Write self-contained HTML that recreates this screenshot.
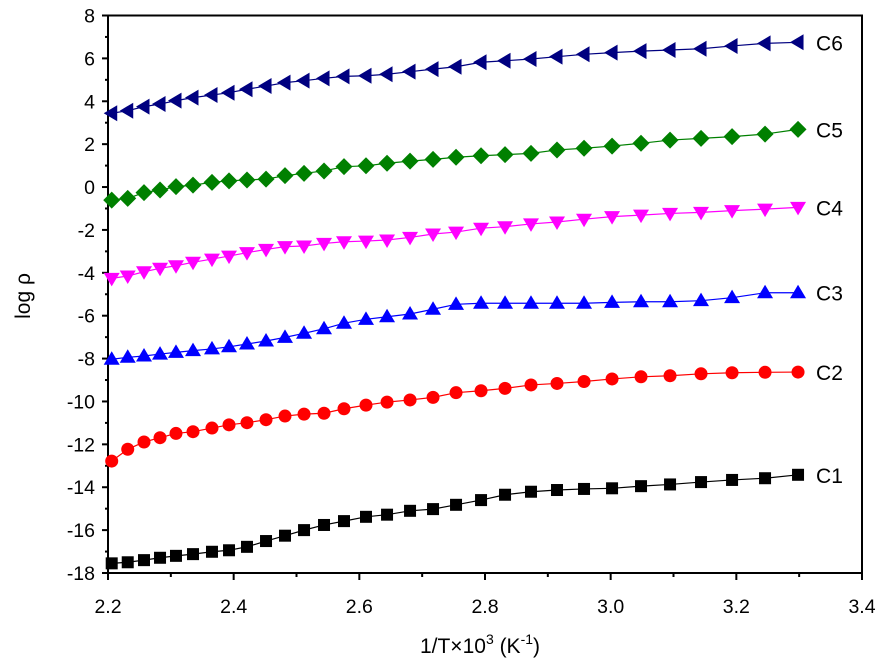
<!DOCTYPE html>
<html><head><meta charset="utf-8"><style>
html,body{margin:0;padding:0;background:#fff;}
svg{display:block;font-family:"Liberation Sans",Arial,sans-serif;}
</style></head><body>
<svg id="chart" width="881" height="665" viewBox="0 0 881 665" xmlns="http://www.w3.org/2000/svg"></svg>
<script>
const xValues=[2.2059,2.2314,2.2573,2.2828,2.3082,2.3353,2.3655,2.3926,2.4212,2.4515,2.4817,2.5120,2.5438,2.5756,2.6106,2.6441,2.6807,2.7173,2.7539,2.7937,2.8319,2.8732,2.9146,2.9576,3.0022,3.0483,3.0945,3.1438,3.1932,3.2457,3.2982];
const c1=[-17.55,-17.50,-17.40,-17.29,-17.20,-17.12,-17.01,-16.94,-16.78,-16.51,-16.26,-16.00,-15.76,-15.58,-15.38,-15.28,-15.10,-15.02,-14.82,-14.60,-14.35,-14.21,-14.13,-14.08,-14.05,-13.95,-13.87,-13.76,-13.66,-13.58,-13.42];
const c2=[-12.78,-12.23,-11.89,-11.69,-11.49,-11.41,-11.24,-11.09,-10.99,-10.85,-10.68,-10.59,-10.55,-10.34,-10.17,-10.03,-9.93,-9.81,-9.59,-9.50,-9.39,-9.23,-9.16,-9.07,-8.95,-8.85,-8.80,-8.71,-8.66,-8.64,-8.63];
const c3=[-8.03,-7.94,-7.88,-7.79,-7.71,-7.63,-7.55,-7.45,-7.32,-7.18,-7.01,-6.82,-6.61,-6.35,-6.17,-6.05,-5.92,-5.70,-5.47,-5.42,-5.42,-5.42,-5.42,-5.42,-5.38,-5.35,-5.35,-5.30,-5.16,-4.93,-4.93];
const c4=[-4.26,-4.15,-3.95,-3.79,-3.67,-3.51,-3.36,-3.22,-3.06,-2.91,-2.78,-2.75,-2.63,-2.55,-2.52,-2.47,-2.35,-2.19,-2.10,-1.92,-1.85,-1.72,-1.63,-1.50,-1.38,-1.31,-1.23,-1.18,-1.10,-1.03,-0.95];
const c5=[-0.61,-0.53,-0.26,-0.14,0.02,0.09,0.22,0.29,0.33,0.37,0.53,0.64,0.75,0.95,0.99,1.11,1.21,1.29,1.39,1.46,1.51,1.57,1.73,1.81,1.91,2.04,2.19,2.27,2.35,2.47,2.69];
const c6=[3.44,3.56,3.75,3.87,4.03,4.17,4.29,4.40,4.56,4.71,4.87,4.96,5.07,5.16,5.19,5.26,5.38,5.50,5.61,5.82,5.89,5.97,6.08,6.19,6.27,6.34,6.39,6.45,6.58,6.70,6.75];
const seriesNames=["C1","C2","C3","C4","C5","C6"];
const xTickLabels=["2.2","2.4","2.6","2.8","3.0","3.2","3.4"];
const yTickLabels=["-18","-16","-14","-12","-10","-8","-6","-4","-2","0","2","4","6","8"];

const L=108,R=862,T=15.5,B=573;
const X0=2.2,X1=3.4,Y0=-18,Y1=8;
function sx(v){return L+(v-X0)/(X1-X0)*(R-L);}
function sy(v){return B-(v-Y0)/(Y1-Y0)*(B-T);}
const NS="http://www.w3.org/2000/svg";
const svg=document.getElementById('chart');
function mk(tag,attrs,parent){const e=document.createElementNS(NS,tag);for(const k in attrs)e.setAttribute(k,attrs[k]);(parent||svg).appendChild(e);return e;}

const frame=mk('rect',{x:L,y:T,width:R-L,height:B-T,fill:'none',stroke:'#000','stroke-width':2});



for(let v=Y0;v<=Y1;v+=1){
  const major=(v%2===0);
  const t=mk('line',{x1:L,x2:L-(major?6:3),y1:sy(v),y2:sy(v),stroke:'#000','stroke-width':2});
  
  
}
yTickLabels.forEach(s=>{
  const tx=mk('text',{x:L-13,y:sy(parseFloat(s))+7,'text-anchor':'end','font-size':19.5,fill:'#000'});
  tx.textContent=s;
  
  
});
for(let i=0;i<=12;i++){
  const v=X0+i*0.1;const major=(i%2===0);
  const t=mk('line',{x1:sx(v),x2:sx(v),y1:B,y2:B+(major?7:4),stroke:'#000','stroke-width':2});
  
  
}
xTickLabels.forEach(s=>{
  const tx=mk('text',{x:sx(parseFloat(s)),y:B+40,'text-anchor':'middle','font-size':19.5,fill:'#000'});
  tx.textContent=s;
  
  
});
const xt=mk('text',{x:480,y:653,'text-anchor':'middle','font-size':21,fill:'#000'});
xt.innerHTML='1/T×10<tspan dy="-9" font-size="14">3</tspan><tspan dy="9"> (K</tspan><tspan dy="-9" font-size="14">-1</tspan><tspan dy="9">)</tspan>';


const yt=mk('text',{x:0,y:0,'text-anchor':'middle','font-size':21,fill:'#000',transform:'translate(30,296) rotate(-90)'});
yt.textContent='log ρ';



const allSeries=[c1,c2,c3,c4,c5,c6];
const colors=['#000000','#ff0000','#0000ff','#ff00ff','#008000','#000080'];
const shapes=['square','circle','up','down','diamond','left'];
function marker(shape,x,y,col,g){
  if(shape==='square')return mk('rect',{x:x-6,y:y-6,width:12,height:12,fill:col},g);
  if(shape==='circle')return mk('circle',{cx:x,cy:y,r:6.5,fill:col},g);
  let pts;
  if(shape==='up')pts=[[x,y-8],[x+8,y+5.5],[x-8,y+5.5]];
  if(shape==='down')pts=[[x,y+8],[x+8,y-5.5],[x-8,y-5.5]];
  if(shape==='left')pts=[[x-8,y],[x+5.5,y-8],[x+5.5,y+8]];
  if(shape==='diamond')pts=[[x,y-8.5],[x+8.5,y],[x,y+8.5],[x-8.5,y]];
  return mk('polygon',{points:pts.map(p=>p.join(',')).join(' '),fill:col},g);
}
allSeries.forEach((ys,si)=>{
  const g=mk('g',{});
  
  
  const pl=mk('polyline',{points:ys.map((v,i)=>sx(xValues[i])+','+sy(v)).join(' '),fill:'none',stroke:colors[si],'stroke-width':1.2},g);
  
  
  ys.forEach((v,i)=>{
    const m=marker(shapes[si],sx(xValues[i]),sy(v),colors[si],g);
    
    
  });
  const last=ys[ys.length-1];
  const lb=mk('text',{x:sx(xValues[xValues.length-1])+18,y:sy(last)+8,'font-size':21,fill:'#000'});
  lb.textContent=seriesNames[si];
  
  
});
</script>
</body></html>
